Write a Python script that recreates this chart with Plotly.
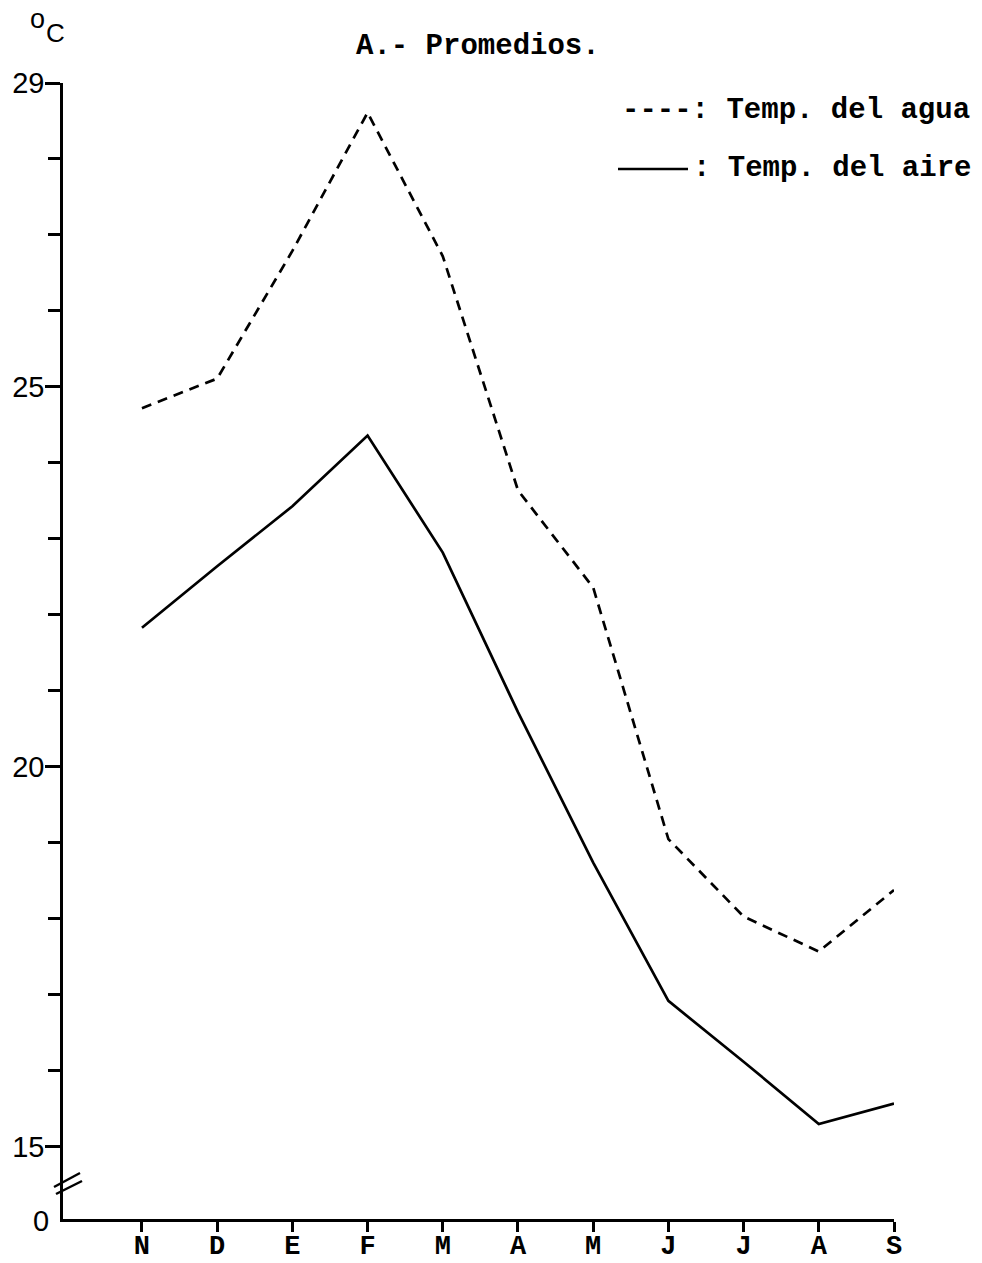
import plotly.graph_objects as go

# ---- data ----
months = ["N", "D", "E", "F", "M", "A", "M", "J", "J", "A", "S"]
temp_agua = [24.72, 25.11, 26.79, 28.61, 26.72, 23.64, 22.36, 19.05, 18.03, 17.57, 18.38]
temp_aire = [21.83, 22.64, 23.43, 24.36, 22.82, 20.72, 18.74, 16.92, 16.12, 15.30, 15.57]
y_major = [15, 20, 25, 29]
y_major_text = ["15", "20", "25", "29"]
y_minor = [16, 17, 18, 19, 21, 22, 23, 24, 26, 27, 28]
title_text = "A.- Promedios."
legend_agua = "----: Temp. del agua"
legend_aire = ": Temp. del aire"

# ---- layout geometry (pixels) ----
W, H = 982, 1263
L, R, T, B = 63, 88, 83, 44
PW, PH = W - L - R, H - T - B


def px(x):
    return (x - L) / PW


def py(y):
    return (H - B - y) / PH


xs = list(range(len(months)))
mono = "Liberation Mono, Courier New, monospace"
sans = "Liberation Sans, Arial, sans-serif"

fig = go.Figure()
fig.add_trace(go.Scatter(x=xs, y=temp_agua, mode="lines", name="Temp. del agua",
                         line=dict(color="black", width=2.7, dash="10px,7px"),
                         showlegend=False))
fig.add_trace(go.Scatter(x=xs, y=temp_aire, mode="lines", name="Temp. del aire",
                         line=dict(color="black", width=2.7),
                         showlegend=False))

fig.update_layout(
    width=W, height=H, autosize=False,
    margin=dict(l=L, r=R, t=T, b=B, pad=0, autoexpand=False),
    paper_bgcolor="white", plot_bgcolor="white",
    showlegend=False,
    xaxis=dict(
        range=[-1.05, 10], tickvals=xs, ticktext=months, automargin=False,
        showline=True, linecolor="black", linewidth=2.5,
        ticks="outside", ticklen=10, tickwidth=2.5, tickcolor="black",
        showgrid=False, zeroline=False, ticklabelstandoff=-10,
        tickfont=dict(family=mono, size=27, color="black", weight="bold"),
    ),
    yaxis=dict(
        range=[14.05, 29], tickvals=y_major, ticktext=y_major_text, automargin=False,
        showline=True, linecolor="black", linewidth=2.5,
        ticks="outside", ticklen=15, tickwidth=2.5, tickcolor="black",
        showgrid=False, zeroline=False, ticklabelstandoff=-5,
        tickfont=dict(family=sans, size=29, color="black"),
        minor=dict(tickvals=y_minor, ticks="outside", ticklen=12, tickwidth=2.5,
                   tickcolor="black", showgrid=False),
    ),
)

ann = [
    dict(text=title_text, x=px(478), y=py(47), xanchor="center", yanchor="middle",
         font=dict(family=mono, size=29, color="black", weight="bold")),
    dict(text=legend_agua, x=px(620), y=py(111), xanchor="left", yanchor="middle",
         font=dict(family=mono, size=29, color="black", weight="bold")),
    dict(text=legend_aire, x=px(691), y=py(168), xanchor="left", yanchor="middle",
         font=dict(family=mono, size=29, color="black", weight="bold")),
    dict(text="0", x=px(41), y=py(1221), xanchor="center", yanchor="middle",
         font=dict(family=sans, size=29, color="black")),
    dict(text="o", x=px(37), y=py(19), xanchor="center", yanchor="middle",
         font=dict(family=sans, size=27, color="black")),
    dict(text="C", x=px(55), y=py(33), xanchor="center", yanchor="middle",
         font=dict(family=sans, size=26, color="black")),
]
for a in ann:
    a.update(xref="paper", yref="paper", showarrow=False)
fig.update_layout(annotations=ann)

shapes = [
    # legend solid line sample
    dict(type="line", x0=px(618), x1=px(688), y0=py(169), y1=py(169),
         line=dict(color="black", width=2.5)),
    # axis break marks
    dict(type="line", x0=px(54), x1=px(80), y0=py(1187), y1=py(1173),
         line=dict(color="black", width=2.5)),
    dict(type="line", x0=px(56), x1=px(82), y0=py(1194), y1=py(1181),
         line=dict(color="black", width=2.5)),
]
for s in shapes:
    s.update(xref="paper", yref="paper", layer="above")
fig.update_layout(shapes=shapes)

fig.write_html("out.html")
